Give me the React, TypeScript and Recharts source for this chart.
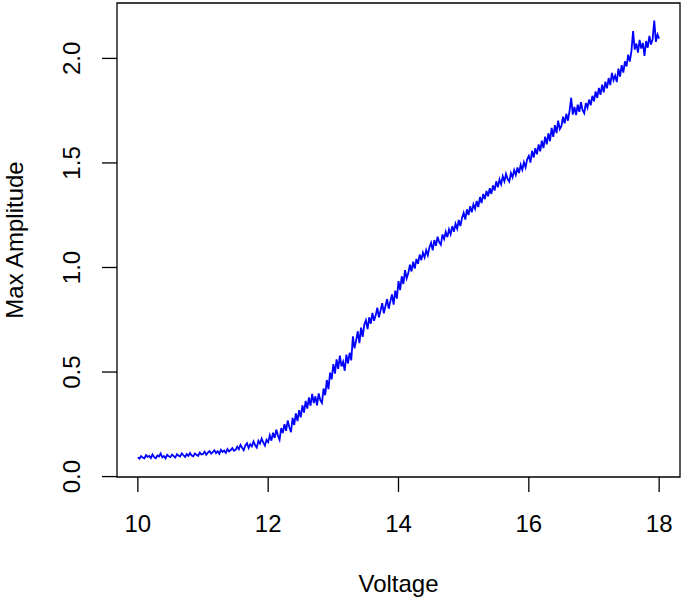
import { LineChart, Line, XAxis, YAxis, ReferenceArea, Label } from "recharts";

// sampling of the sweep (volts)
const VOLT_START = 10;
const VOLT_STEP = 0.025;

// max amplitude, one value per 0.025 V step, 10.000 .. 18.000
const amplitude = [
  0.092, 0.086, 0.098, 0.091, 0.087, 0.103, 0.094, 0.099, 0.089, 0.106, 0.093, 0.088, 0.101, 0.096, 0.11, 0.092, 0.098, 0.087, 0.104, 0.097,
  0.093, 0.105, 0.098, 0.091, 0.107, 0.1, 0.096, 0.111, 0.102, 0.094, 0.108, 0.099, 0.113, 0.101, 0.097, 0.11, 0.104, 0.099, 0.115, 0.106,
  0.108, 0.119, 0.104, 0.115, 0.122, 0.11, 0.117, 0.126, 0.112, 0.121, 0.109, 0.128, 0.118, 0.124, 0.113, 0.131, 0.12, 0.127, 0.136, 0.123,
  0.128, 0.143, 0.131, 0.152, 0.138, 0.126, 0.149, 0.16, 0.137, 0.155, 0.145, 0.168, 0.15, 0.139, 0.171, 0.158, 0.182, 0.163, 0.148, 0.176,
  0.165, 0.198, 0.172, 0.21, 0.185, 0.224, 0.196, 0.176, 0.232, 0.208, 0.251, 0.219, 0.268, 0.236, 0.212, 0.281, 0.247, 0.302, 0.265, 0.318,
  0.283, 0.341, 0.306, 0.362, 0.325, 0.378, 0.339, 0.395, 0.352, 0.384, 0.341, 0.398, 0.365, 0.352, 0.421, 0.389, 0.462, 0.418, 0.497, 0.465,
  0.538, 0.492, 0.561, 0.515, 0.578, 0.527, 0.549, 0.506, 0.583, 0.541, 0.592, 0.556, 0.671, 0.613, 0.652, 0.695, 0.638, 0.712, 0.668, 0.726,
  0.748, 0.705, 0.762, 0.731, 0.783, 0.745, 0.771, 0.808, 0.762, 0.795, 0.829, 0.781, 0.816, 0.848, 0.803, 0.838, 0.871, 0.822, 0.889, 0.851,
  0.935, 0.892, 0.958, 0.921, 0.987, 0.948, 0.972, 1.013, 0.981, 1.028, 0.995, 1.041, 1.018, 1.062, 1.035, 1.071, 1.048, 1.083, 1.059, 1.097,
  1.118, 1.082, 1.131, 1.104, 1.147, 1.121, 1.109, 1.158, 1.136, 1.171, 1.145, 1.182, 1.159, 1.198, 1.171, 1.209, 1.186, 1.227, 1.198, 1.238,
  1.262, 1.229, 1.278, 1.251, 1.293, 1.264, 1.302, 1.281, 1.318, 1.289, 1.337, 1.308, 1.352, 1.327, 1.366, 1.341, 1.379, 1.352, 1.393, 1.368,
  1.412, 1.384, 1.421, 1.398, 1.436, 1.412, 1.447, 1.423, 1.411, 1.452, 1.431, 1.466, 1.442, 1.478, 1.452, 1.491, 1.467, 1.503, 1.479, 1.518,
  1.534, 1.502, 1.558, 1.526, 1.571, 1.541, 1.589, 1.556, 1.607, 1.571, 1.626, 1.589, 1.642, 1.604, 1.668, 1.625, 1.681, 1.643, 1.702, 1.662,
  1.676, 1.721, 1.689, 1.735, 1.702, 1.748, 1.812, 1.731, 1.768, 1.729, 1.779, 1.745, 1.791, 1.752, 1.738, 1.786, 1.764, 1.803, 1.776, 1.821,
  1.795, 1.842, 1.811, 1.859, 1.826, 1.874, 1.838, 1.889, 1.857, 1.906, 1.872, 1.931, 1.896, 1.918, 1.887, 1.951, 1.913, 1.968, 1.932, 1.986,
  1.962, 2.018, 1.985, 2.036, 2.131, 2.042, 2.071, 2.028, 2.089, 2.047, 2.074, 2.012, 2.083, 2.051, 2.108, 2.066, 2.092, 2.181, 2.079, 2.114,
  2.095,
];

const xTicks = [10, 12, 14, 16, 18];
const yTicks = [0, 0.5, 1, 1.5, 2];

const X_DOMAIN: [number, number] = [9.68, 18.32];
const Y_DOMAIN: [number, number] = [-0.002, 2.265];

const data = amplitude.map((a, i) => ({
  v: +(VOLT_START + i * VOLT_STEP).toFixed(3),
  a,
}));

const FONT = "'Liberation Sans', Arial, Helvetica, sans-serif";

function XTick(props: any) {
  const { x, y, payload } = props;
  return (
    <text x={x} y={y + 40} textAnchor="middle" fontSize={24} fontFamily={FONT} fill="#000">
      {String(payload.value)}
    </text>
  );
}

function YTick(props: any) {
  const { x, y, payload } = props;
  const bx = x - 22;
  return (
    <text
      x={bx}
      y={y}
      transform={`rotate(-90, ${bx}, ${y})`}
      textAnchor="middle"
      fontSize={24}
      fontFamily={FONT}
      fill="#000"
    >
      {Number(payload.value).toFixed(1)}
    </text>
  );
}

function XTitle(props: any) {
  const vb = props.viewBox;
  return (
    <text x={vb.x + vb.width / 2} y={vb.y + 115} textAnchor="middle" fontSize={24} fontFamily={FONT} fill="#000">
      Voltage
    </text>
  );
}

function YTitle(props: any) {
  const vb = props.viewBox;
  const cy = vb.y + vb.height / 2;
  return (
    <text
      x={23}
      y={cy}
      transform={`rotate(-90, 23, ${cy})`}
      textAnchor="middle"
      fontSize={24}
      fontFamily={FONT}
      fill="#000"
    >
      Max Amplitude
    </text>
  );
}

export default function App() {
  return (
    <div style={{ position: "absolute", left: 0, top: 0, width: 684, height: 599, background: "#fff" }}>
      <LineChart width={684} height={599} data={data} margin={{ top: 3, right: 4, bottom: 0, left: 0 }}>
        <XAxis
          dataKey="v"
          type="number"
          domain={X_DOMAIN}
          ticks={xTicks}
          allowDataOverflow
          height={122}
          tickSize={15}
          tickMargin={0}
          axisLine={false}
          tickLine={{ stroke: "#000", strokeWidth: 1.3 }}
          tick={<XTick />}
        >
          <Label content={<XTitle />} />
        </XAxis>
        <YAxis
          type="number"
          domain={Y_DOMAIN}
          ticks={yTicks}
          allowDataOverflow
          width={117}
          tickSize={15}
          tickMargin={0}
          axisLine={false}
          tickLine={{ stroke: "#000", strokeWidth: 1.3 }}
          tick={<YTick />}
        >
          <Label content={<YTitle />} />
        </YAxis>
        <ReferenceArea
          x1={X_DOMAIN[0]}
          x2={X_DOMAIN[1]}
          y1={Y_DOMAIN[0]}
          y2={Y_DOMAIN[1]}
          fill="none"
          stroke="#000"
          strokeWidth={1.3}
          ifOverflow="visible"
        />
        <Line
          type="linear"
          dataKey="a"
          stroke="#0000ff"
          strokeWidth={1.8}
          dot={false}
          isAnimationActive={false}
        />
      </LineChart>
    </div>
  );
}
